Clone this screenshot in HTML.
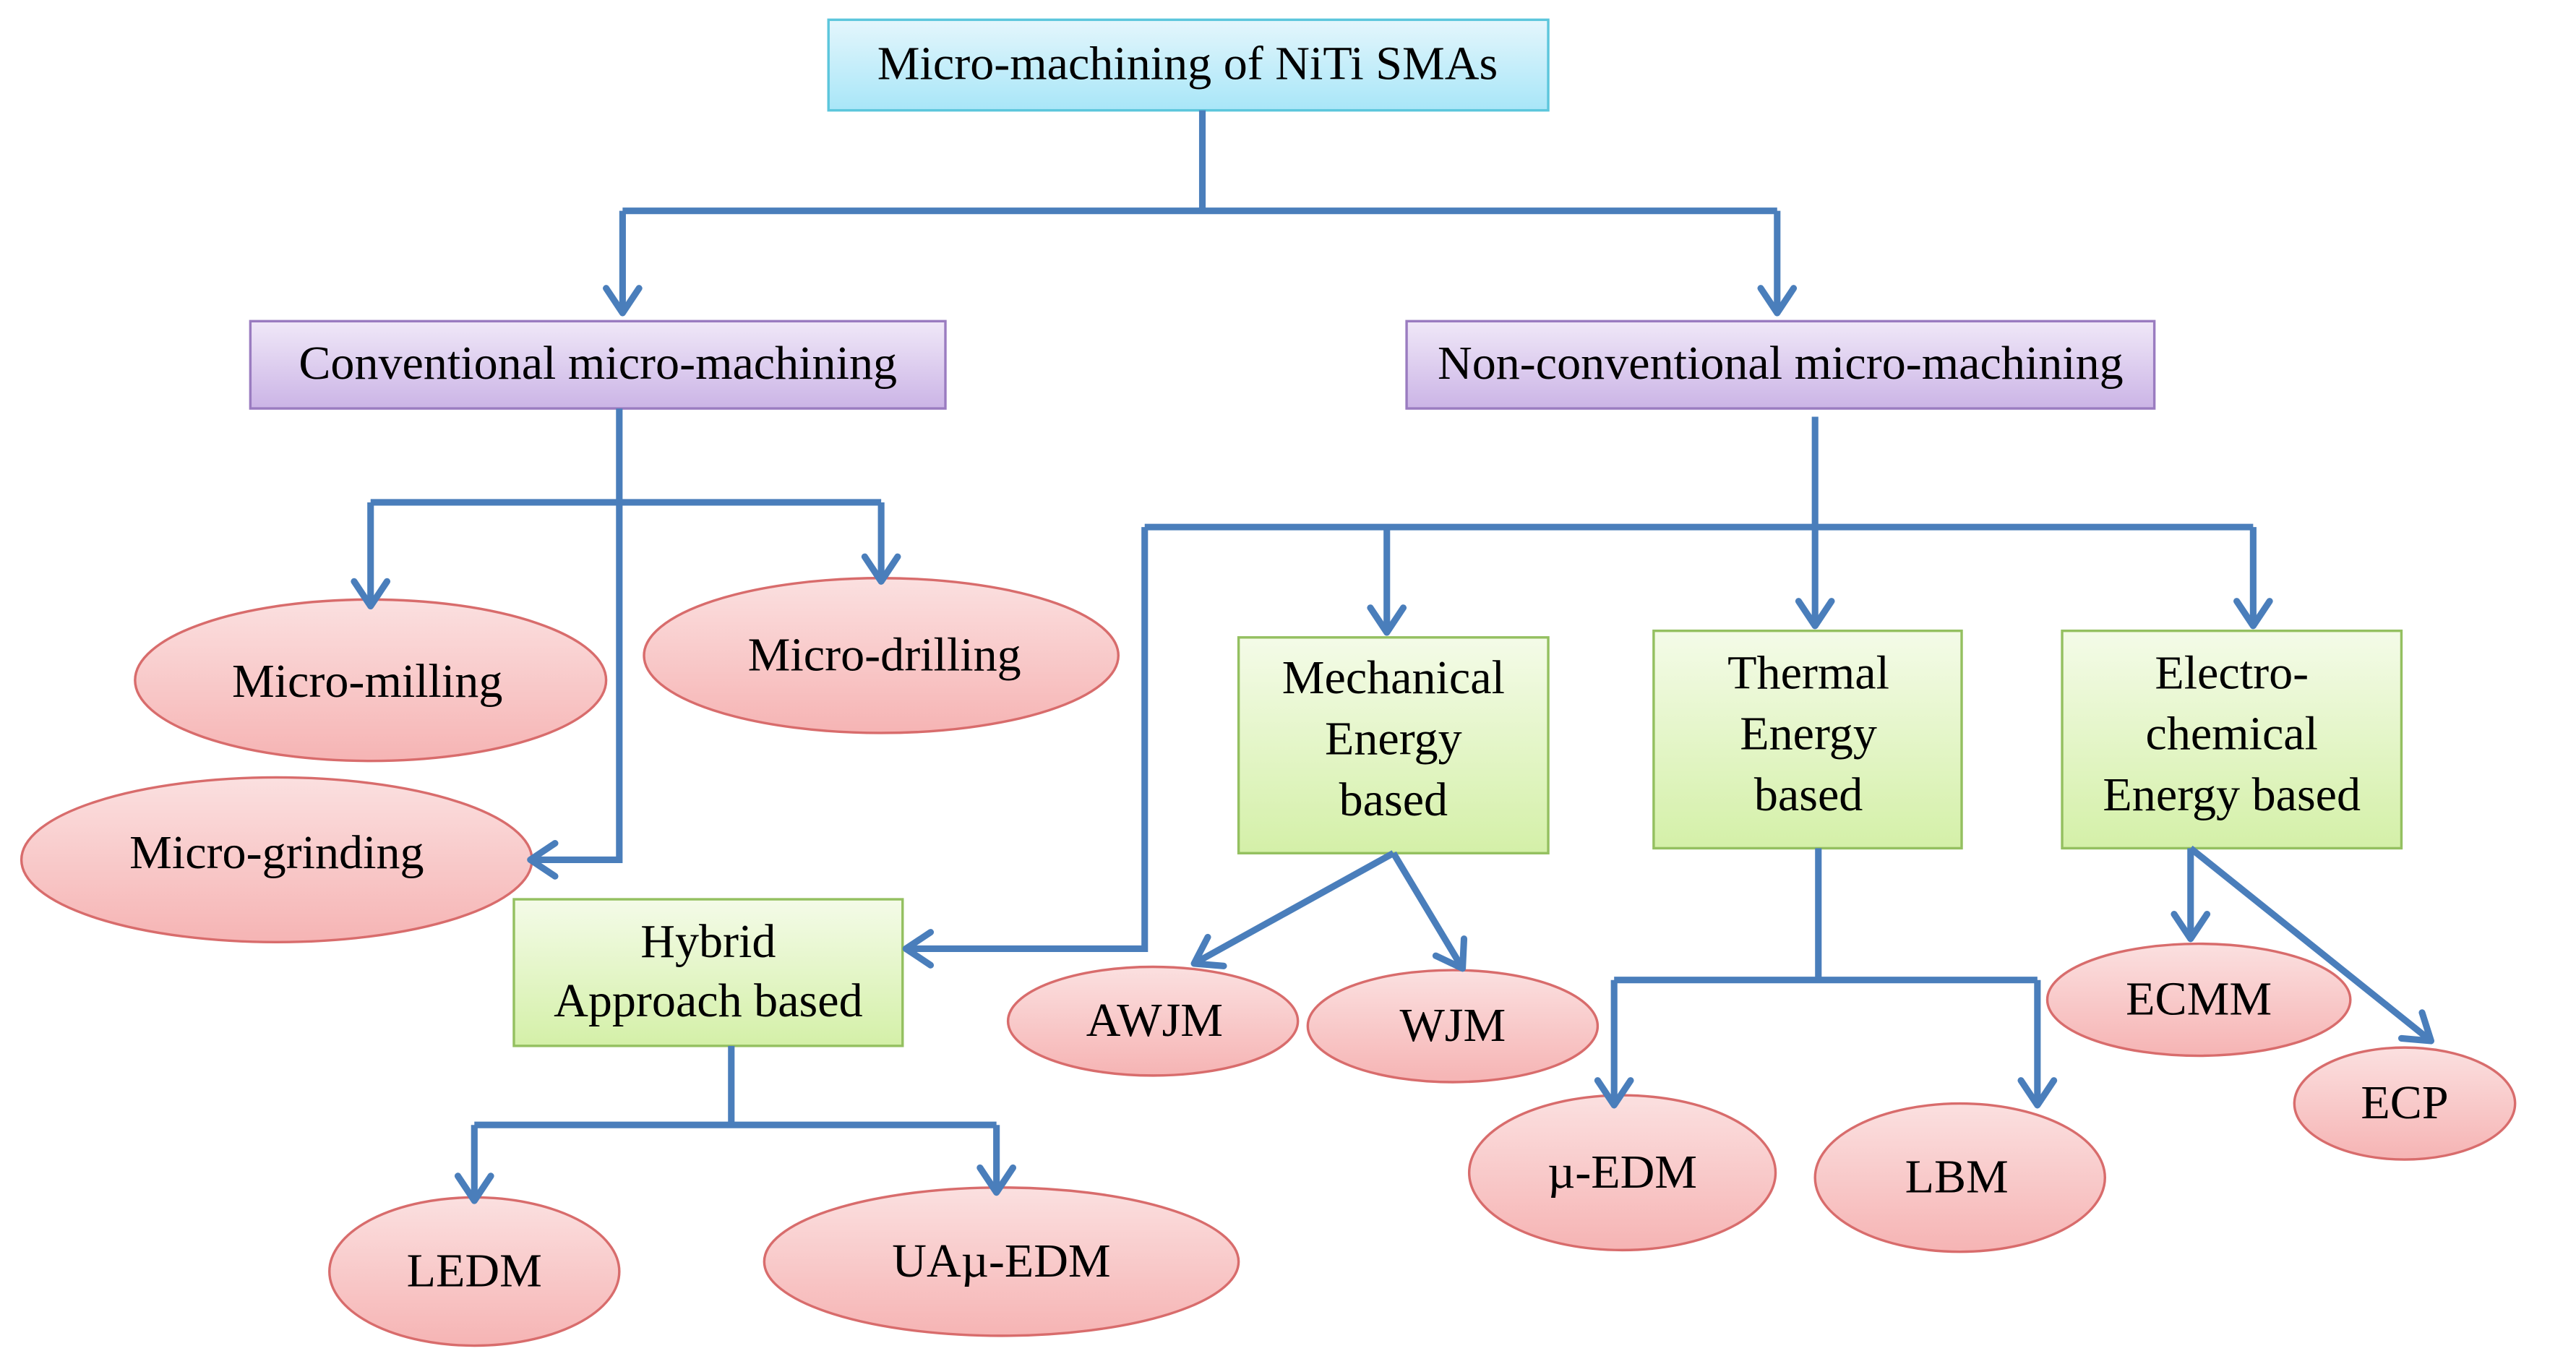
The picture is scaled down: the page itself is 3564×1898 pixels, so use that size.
<!DOCTYPE html>
<html><head><meta charset="utf-8"><style>
html,body{margin:0;padding:0;background:#fff;}
svg{display:block;}
text{font-family:"Liberation Serif",serif;font-size:29px;fill:#000;text-anchor:middle;}
</style></head><body>
<svg width="3564" height="1898" viewBox="0 0 1564 833" preserveAspectRatio="none" xmlns="http://www.w3.org/2000/svg">
<defs>
<linearGradient id="gb" x1="0" y1="0" x2="0" y2="1"><stop offset="0" stop-color="#e4f6fc"/><stop offset="1" stop-color="#a8e6f8"/></linearGradient>
<linearGradient id="gp" x1="0" y1="0" x2="0" y2="1"><stop offset="0" stop-color="#f0e8f8"/><stop offset="1" stop-color="#cbb4e6"/></linearGradient>
<linearGradient id="gg" x1="0" y1="0" x2="0" y2="1"><stop offset="0" stop-color="#f4fbe8"/><stop offset="1" stop-color="#d4f0a8"/></linearGradient>
<linearGradient id="gr" x1="0" y1="0" x2="0" y2="1"><stop offset="0" stop-color="#fbe0e0"/><stop offset="1" stop-color="#f6b4b4"/></linearGradient>
<marker id="a" viewBox="0 0 20 24" refX="17" refY="12" markerWidth="20" markerHeight="24" orient="auto" markerUnits="userSpaceOnUse" style="overflow:visible">
<path d="M2,2 L17,12 L2,22" fill="none" stroke="#4a7ebb" stroke-width="4" stroke-linecap="round" stroke-linejoin="round"/></marker>
</defs>
<rect x="503" y="12" width="437" height="55" fill="url(#gb)" stroke="#5cc6dc" stroke-width="1.5"/>
<text x="721" y="48">Micro-machining of NiTi SMAs</text>
<rect x="152" y="195" width="422" height="53" fill="url(#gp)" stroke="#9a7cc0" stroke-width="1.5"/>
<text x="363" y="230">Conventional micro-machining</text>
<rect x="854" y="195" width="454" height="53" fill="url(#gp)" stroke="#9a7cc0" stroke-width="1.5"/>
<text x="1081" y="230">Non-conventional micro-machining</text>
<g fill="url(#gg)" stroke="#94c060" stroke-width="1.5">
<rect x="752" y="387" width="188" height="131"/>
<rect x="1004" y="383" width="187" height="132"/>
<rect x="1252" y="383" width="206" height="132"/>
<rect x="312" y="546" width="236" height="89"/>
</g>
<text x="846" y="421">Mechanical</text><text x="846" y="458">Energy</text><text x="846" y="495">based</text>
<text x="1098" y="418">Thermal</text><text x="1098" y="455">Energy</text><text x="1098" y="492">based</text>
<text x="1355" y="418">Electro-</text><text x="1355" y="455">chemical</text><text x="1355" y="492">Energy based</text>
<text x="430" y="581">Hybrid</text><text x="430" y="617">Approach based</text>
<g fill="url(#gr)" stroke="#d86c6c" stroke-width="1.5">
<ellipse cx="225" cy="413" rx="143" ry="49"/>
<ellipse cx="535" cy="398" rx="144" ry="47"/>
<ellipse cx="168" cy="522" rx="155" ry="50"/>
<ellipse cx="700" cy="620" rx="88" ry="33"/>
<ellipse cx="882" cy="623" rx="88" ry="34"/>
<ellipse cx="985" cy="712" rx="93" ry="47"/>
<ellipse cx="1190" cy="715" rx="88" ry="45"/>
<ellipse cx="1335" cy="607" rx="92" ry="34"/>
<ellipse cx="1460" cy="670" rx="67" ry="34"/>
<ellipse cx="288" cy="772" rx="88" ry="45"/>
<ellipse cx="608" cy="766" rx="144" ry="45"/>
</g>
<g fill="none" stroke="#4a7ebb" stroke-width="4">
<path d="M730,67 V128 M378,128 H1079"/>
<path d="M378,128 V190" marker-end="url(#a)"/>
<path d="M1079,128 V190" marker-end="url(#a)"/>
<path d="M376,248 V522 H322" marker-end="url(#a)"/>
<path d="M225,305 H535"/>
<path d="M225,305 V368" marker-end="url(#a)"/>
<path d="M535,305 V353" marker-end="url(#a)"/>
<path d="M1102,253 V380" marker-end="url(#a)"/>
<path d="M695,320 H1368"/>
<path d="M842,320 V384" marker-end="url(#a)"/>
<path d="M1368,320 V380" marker-end="url(#a)"/>
<path d="M695,320 V576 H550" marker-end="url(#a)"/>
<path d="M846,518 L725,585" marker-end="url(#a)"/>
<path d="M846,518 L888,588" marker-end="url(#a)"/>
<path d="M1104,515 V595 H980 M1104,595 H1237"/>
<path d="M980,595 V671" marker-end="url(#a)"/>
<path d="M1237,595 V671" marker-end="url(#a)"/>
<path d="M1330,515 V570" marker-end="url(#a)"/>
<path d="M1330,515 L1476,632" marker-end="url(#a)"/>
<path d="M444,635 V683 H288 M444,683 H605"/>
<path d="M288,683 V729" marker-end="url(#a)"/>
<path d="M605,683 V724" marker-end="url(#a)"/>
</g>
<text x="223" y="423">Micro-milling</text>
<text x="537" y="407">Micro-drilling</text>
<text x="168" y="527">Micro-grinding</text>
<text x="701" y="629">AWJM</text>
<text x="882" y="632">WJM</text>
<text x="985" y="721">µ-EDM</text>
<text x="1188" y="724">LBM</text>
<text x="1335" y="616">ECMM</text>
<text x="1460" y="679">ECP</text>
<text x="288" y="781">LEDM</text>
<text x="608" y="775">UAµ-EDM</text>
</svg>
</body></html>
